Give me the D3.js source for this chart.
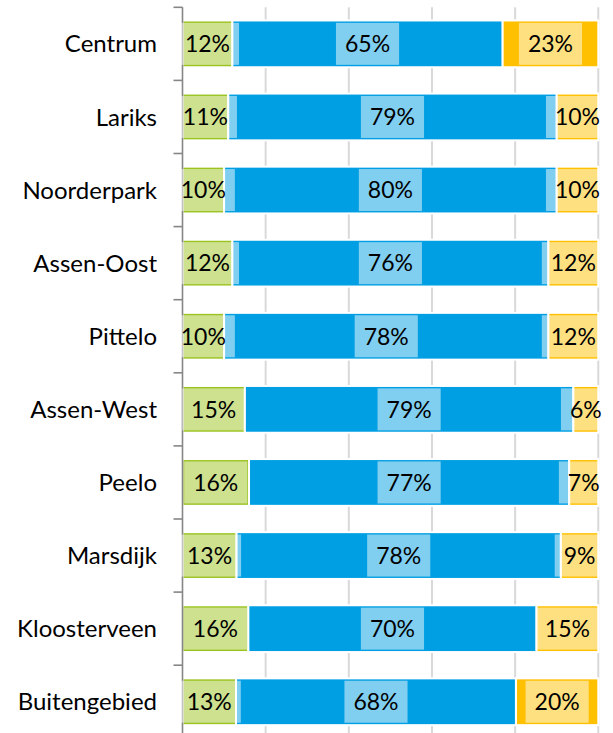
<!DOCTYPE html>
<html><head><meta charset="utf-8">
<script src="https://cdn.jsdelivr.net/npm/d3@7"></script>
<style>body{margin:0;background:#fff;} svg{display:block;}</style>
</head><body><svg id="chart" width="613" height="733"></svg>
<script>
const categories = ["Centrum","Lariks","Noorderpark","Assen-Oost","Pittelo","Assen-West","Peelo","Marsdijk","Kloosterveen","Buitengebied"];
const seriesKeys = ["groen","blauw","geel"];
const greenValues  = [12,11,10,12,10,15,16,13,16,13];
const blueValues   = [65,79,80,76,78,79,77,78,70,68];
const yellowValues = [23,10,10,12,12, 6, 7, 9,15,20];
const xTickValues  = [0,0.2,0.4,0.6,0.8,1];
const seriesColors = ["#9bc31f","#009fe3","#ffc000"];

(function(){
const rows = categories.map((c,i)=>({cat:c, groen:greenValues[i], blauw:blueValues[i], geel:yellowValues[i]}));
const stacked = d3.stack().keys(seriesKeys).offset(d3.stackOffsetExpand)(rows);

const FONT = "Lato, 'Open Sans', sans-serif";
const FS = 24, LFS = 23;
const x0 = 182.5, x1 = 598.3, plotTop = 7.3, step = 73.1;
const x = d3.scaleLinear().domain([0,1]).range([x0,x1]);
const plotBottom = plotTop + step*categories.length;
const y = d3.scaleBand().domain(categories).range([plotTop, plotBottom]).paddingInner(0.36).paddingOuter(0.18);

const svg = d3.select("#chart");

// gridlines
svg.append("g").selectAll("line").data(xTickValues.slice(1)).join("line")
  .attr("x1",d=>x(d)).attr("x2",d=>x(d)).attr("y1",plotTop).attr("y2",plotBottom)
  .attr("stroke","#d9d9d9").attr("stroke-width",2);

// bars
const bw = y.bandwidth();
svg.append("g").selectAll("g").data(stacked).join("g")
  .attr("fill",(d,i)=>seriesColors[i])
  .selectAll("rect").data(d=>d).join("rect")
  .attr("x",d=>x(d[0])).attr("width",d=>x(d[1])-x(d[0]))
  .attr("y",d=>y(d.data.cat)).attr("height",bw)
  .attr("stroke","#fff").attr("stroke-width",2);

// axis
const ax = svg.append("g");
ax.append("line").attr("x1",x0).attr("x2",x0).attr("y1",plotTop).attr("y2",plotBottom)
  .attr("stroke","#868686").attr("stroke-width",1.6);
ax.selectAll("line.tick").data(d3.range(categories.length+1)).join("line").attr("class","tick")
  .attr("x1",x0-9).attr("x2",x0).attr("y1",i=>plotTop+i*step).attr("y2",i=>plotTop+i*step)
  .attr("stroke","#868686").attr("stroke-width",1.6);
ax.selectAll("text").data(categories).join("text")
  .attr("x",157).attr("y",d=>y(d)+bw/2).attr("dy","0.36em")
  .attr("text-anchor","end").attr("font-family",FONT).attr("font-size",FS).attr("fill","#000")
  .text(d=>d);

// data labels
const lab = svg.append("g");
stacked.forEach((s,si)=>{
  s.forEach((d,ri)=>{
    const cx = x((d[0]+d[1])/2);
    const cy = y(d.data.cat)+bw/2;
    const g = lab.append("g");
    const rect = g.append("rect");
    const t = g.append("text").attr("x",cx).attr("y",cy).attr("dy","0.36em")
      .attr("text-anchor","middle").attr("font-family",FONT).attr("font-size",LFS).attr("fill","#000")
      .text(d.data[s.key]+"%");
    const w = t.node().getComputedTextLength();
    rect.attr("x",cx-w/2-9).attr("width",w+18).attr("y",cy-21).attr("height",42)
      .attr("fill","#fff").attr("fill-opacity",0.5);
  });
});
})();
</script></body></html>
